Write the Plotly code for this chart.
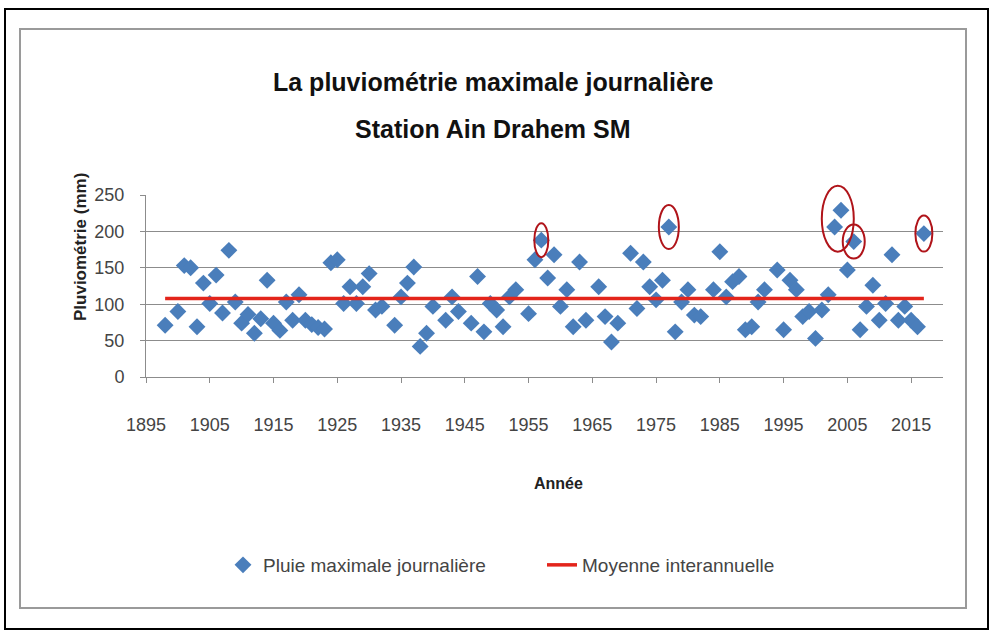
import plotly.graph_objects as go

# Pluviométrie maximale journalière, station Ain Drahem SM (mm)
annees = [1898, 1900, 1901, 1902, 1903, 1904, 1905, 1906, 1907, 1908, 1909,
          1910, 1911, 1912, 1913, 1914, 1915, 1916, 1917, 1918, 1919,
          1920, 1921, 1922, 1923, 1924, 1925, 1926, 1927, 1928, 1929,
          1930, 1931, 1932, 1934, 1935, 1936, 1937, 1938, 1939,
          1940, 1942, 1943, 1944, 1946, 1947, 1948, 1949,
          1950, 1951, 1952, 1953, 1955, 1956, 1957, 1958, 1959,
          1960, 1961, 1962, 1963, 1964, 1966, 1967, 1968, 1969,
          1971, 1972, 1973, 1974, 1975, 1976, 1977, 1978, 1979,
          1980, 1981, 1982, 1984, 1985, 1986, 1987, 1988, 1989,
          1990, 1991, 1992, 1994, 1995, 1996, 1997, 1998, 1999,
          2000, 2001, 2002, 2003, 2004, 2005, 2006, 2007, 2008, 2009,
          2010, 2011, 2012, 2013, 2014, 2015, 2016, 2017]
pluie_max = [71, 90, 153, 150, 69, 129, 101, 140, 88, 174, 103,
             74, 86, 60, 80, 133, 74, 64, 103, 78, 113,
             78, 72, 68, 66, 157, 161, 101, 124, 101, 124,
             142, 92, 97, 71, 110, 129, 151, 42, 60,
             97, 78, 110, 90, 74, 138, 62, 101,
             92, 69, 110, 120, 87, 161, 188, 136, 168,
             97, 120, 69, 158, 78, 124, 83, 48, 74,
             170, 94, 158, 124, 106, 133, 206, 62, 103,
             120, 85, 83, 120, 172, 110, 131, 138, 65,
             69, 103, 120, 147, 65, 133, 120, 83, 90,
             53, 92, 113, 206, 229, 147, 186, 65, 97, 126,
             78, 101, 168, 78, 97, 78, 69, 197]
moyenne_interannuelle = 108

# Years whose extreme values are circled (one ellipse per group)
extremes = [[1957], [1977], [2003, 2004], [2006], [2017]]
ellipse_px = [(7, 17), (10, 22), (16, 33), (11, 17), (8.5, 18)]

x_ticks = list(range(1895, 2016, 10))
y_ticks = [0, 50, 100, 150, 200, 250]
X_RANGE = [1895, 2020]
Y_RANGE = [0, 250]

W, H = 993, 631
L, R, T, B = 146, 50, 195, 254
PW, PH = W - L - R, H - T - B

FONT = "Liberation Sans, Arial, sans-serif"


def px_x(px):
    return (px - L) / PW


def px_y(py):
    return (H - B - py) / PH


fig = go.Figure()

fig.add_trace(go.Scatter(
    x=annees, y=pluie_max, mode="markers",
    name="Pluie maximale journalière",
    marker=dict(symbol="diamond", size=13, color="#4A7EBB",
                line=dict(width=0)),
))
fig.add_trace(go.Scatter(
    x=[min(annees), max(annees)],
    y=[moyenne_interannuelle, moyenne_interannuelle],
    mode="lines", name="Moyenne interannuelle",
    line=dict(color="#E3241B", width=3.5),
))

shapes = []
# chart frame and outer border
shapes.append(dict(type="rect", xref="paper", yref="paper",
                   x0=px_x(5), x1=px_x(988), y0=px_y(629), y1=px_y(9),
                   line=dict(color="#000000", width=2), layer="below"))
shapes.append(dict(type="rect", xref="paper", yref="paper",
                   x0=px_x(20), x1=px_x(966), y0=px_y(608), y1=px_y(29),
                   line=dict(color="#9A9A9A", width=2), layer="below"))

# red ellipses around the extreme values
for grp, (rx, ry) in zip(extremes, ellipse_px):
    vals = [pluie_max[annees.index(a)] for a in grp]
    cx = (sum(grp) / len(grp) - X_RANGE[0]) / (X_RANGE[1] - X_RANGE[0])
    cy = (sum(vals) / len(vals) - Y_RANGE[0]) / (Y_RANGE[1] - Y_RANGE[0])
    shapes.append(dict(type="circle", xref="paper", yref="paper",
                       x0=cx - rx / PW, x1=cx + rx / PW,
                       y0=cy - ry / PH, y1=cy + ry / PH,
                       line=dict(color="#B0141A", width=2)))


def label(text, px, py, size, angle=0, color="#111111"):
    return dict(text=text, x=px_x(px), y=px_y(py), xref="paper", yref="paper",
                xanchor="center", yanchor="middle", showarrow=False,
                textangle=angle,
                font=dict(family=FONT, size=size, color=color, weight="bold"))


annotations = [
    label("La pluviométrie maximale journalière", 493, 82, 25),
    label("Station Ain Drahem SM", 493, 129, 25),
    label("Pluviométrie (mm)", 80, 247, 17, angle=-90, color="#222222"),
    label("Année", 558, 483, 16, color="#222222"),
]

fig.update_layout(
    width=W, height=H,
    margin=dict(l=L, r=R, t=T, b=B),
    paper_bgcolor="white", plot_bgcolor="white",
    shapes=shapes, annotations=annotations,
    showlegend=True,
    legend=dict(orientation="h", x=px_x(223), y=px_y(565),
                xanchor="left", yanchor="middle",
                font=dict(family=FONT, size=19, color="#444444"),
                itemwidth=30, entrywidth=274, entrywidthmode="pixels",
                bgcolor="rgba(0,0,0,0)"),
    xaxis=dict(range=X_RANGE, tickvals=x_ticks, showgrid=False,
               showline=True, linecolor="#8C8C8C", linewidth=1,
               ticks="outside", ticklen=5, tickcolor="#8C8C8C",
               ticklabelstandoff=26, zeroline=False,
               tickfont=dict(family=FONT, size=18, color="#444444")),
    yaxis=dict(range=Y_RANGE, tickvals=y_ticks, showgrid=True,
               gridcolor="#8C8C8C", gridwidth=1,
               showline=True, linecolor="#8C8C8C", linewidth=1,
               ticks="outside", ticklen=5, tickcolor="#8C8C8C",
               ticklabelstandoff=12, zeroline=False,
               tickfont=dict(family=FONT, size=18, color="#444444")),
)

fig.write_html("out.html")
